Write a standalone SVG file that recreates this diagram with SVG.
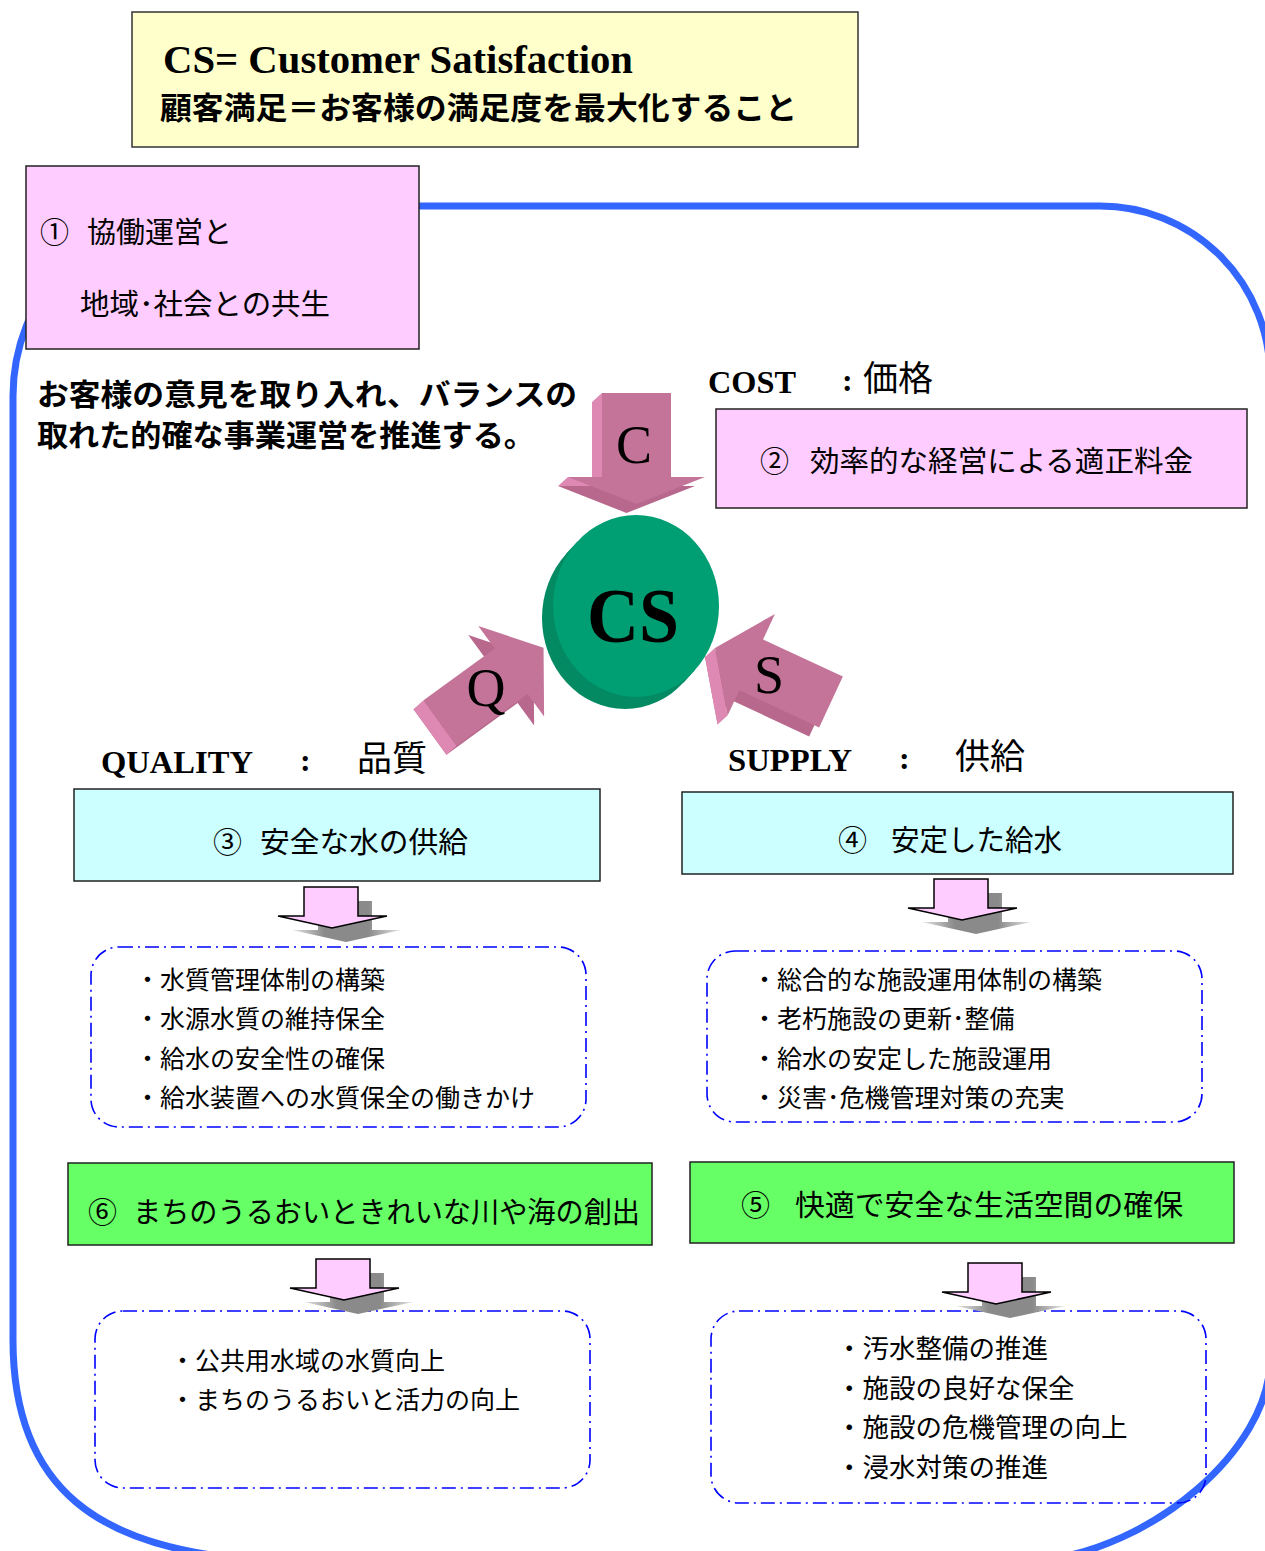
<svg xmlns="http://www.w3.org/2000/svg" width="1265" height="1551" viewBox="0 0 1265 1551">
<style>
.jp{font-family:"Noto Sans CJK JP","Noto Sans",sans-serif;fill:#000}
.jpb{font-family:"Noto Sans CJK JP","Noto Sans",sans-serif;font-weight:bold;fill:#000}
.ser{font-family:"Liberation Serif","Times New Roman",serif;fill:#000}
.box{stroke:#222;stroke-width:1.5}
.pink{fill:#FFCCFF}
.cyan{fill:#CCFFFF}
.green{fill:#66FF66}
.dash{fill:none;stroke:#0000FF;stroke-width:1.6;stroke-dasharray:14 5 2 5}
.fr{fill:#C47498}
.bk{fill:#B7688C}
.lt{fill:#DE88B4}
.t29{font-size:29px}
.li{font-size:25px}
.li2{font-size:26.5px}
.lab{font-size:32px;font-weight:bold}
.big{font-size:35px}
.sp{fill:#FFCCFF;stroke:#000;stroke-width:1.5}
.sh{fill:url(#sg)}
</style>
<defs>
<linearGradient id="sg" x1="0" y1="0" x2="1" y2="0">
<stop offset="0" stop-color="#e4e4e4"/>
<stop offset="0.3" stop-color="#8a8a8a"/>
<stop offset="0.7" stop-color="#8a8a8a"/>
<stop offset="1" stop-color="#e4e4e4"/>
</linearGradient>
<path id="sa" d="M0,0 H54 V29 H83 L28,41 L-26,29 H0 Z"/>
<path id="qs" d="M0,-28 H88 V-56 L128,0 L88,56 V28 H0 Z"/>
<path id="ca" d="M602,393 H671 V477 H705 L636.5,504 L568,477 H602 Z"/>
</defs>
<rect width="1265" height="1551" fill="#fff"/>

<g id="frame">
<path d="M183,206 L1100,206 A170,170 0 0 1 1270,376 L1270,1360 C1270,1450 1150,1550 1040,1560 L260,1560 C100,1550 13,1490 13,1340 L13,396 A190,190 0 0 1 203,206 Z" fill="none" stroke="#3366FF" stroke-width="7"/>
</g>

<g id="header">
<rect x="132" y="12" width="726" height="135" fill="#FFFFCC" stroke="#333" stroke-width="1.5"/>
<text class="ser" x="163" y="73" font-size="40" font-weight="bold" textLength="470" lengthAdjust="spacingAndGlyphs">CS= Customer Satisfaction</text>
<text class="jpb" x="160" y="119" font-size="31" textLength="637" lengthAdjust="spacingAndGlyphs">顧客満足＝お客様の満足度を最大化すること</text>
</g>

<g id="node1">
<rect class="box pink" x="26" y="166" width="393" height="183"/>
<text class="jp t29" x="40" y="243">①</text>
<text class="jp t29" x="87" y="243" textLength="145" lengthAdjust="spacingAndGlyphs">協働運営と</text>
<text class="jp t29" x="80" y="315" textLength="250" lengthAdjust="spacingAndGlyphs">地域･社会との共生</text>
</g>

<g id="intro">
<text class="jpb" x="37" y="405" font-size="30" textLength="540" lengthAdjust="spacingAndGlyphs">お客様の意見を取り入れ、バランスの</text>
<text class="jpb" x="37" y="446" font-size="30" textLength="498" lengthAdjust="spacingAndGlyphs">取れた的確な事業運営を推進する。</text>
</g>

<g id="cost-label">
<text class="ser lab" x="708" y="393" textLength="88" lengthAdjust="spacingAndGlyphs">COST</text>
<text class="ser lab" x="842" y="391">:</text>
<text class="jp big" x="863" y="391">価格</text>
</g>

<g id="node2">
<rect class="box pink" x="716" y="409" width="531" height="99"/>
<text class="jp t29" x="760" y="472">②</text>
<text class="jp t29" x="810" y="472" textLength="383" lengthAdjust="spacingAndGlyphs">効率的な経営による適正料金</text>
</g>

<g id="cs">
<ellipse cx="625" cy="618" rx="83" ry="91" fill="#038A63"/>
<polygon points="577.4,541.6 694.6,670.4 683.6,682.4 566.4,553.6" fill="#038A63"/>
<ellipse cx="636" cy="606" rx="83" ry="91" fill="#009E73"/>
<text class="ser" x="633" y="642" font-size="78" font-weight="bold" text-anchor="middle" textLength="92" lengthAdjust="spacingAndGlyphs">CS</text>
</g>

<g id="quality-label">
<text class="ser lab" x="101" y="773" textLength="152" lengthAdjust="spacingAndGlyphs">QUALITY</text>
<text class="ser lab" x="300" y="771">:</text>
<text class="jp big" x="357" y="771">品質</text>
</g>

<g id="supply-label">
<text class="ser lab" x="728" y="771" textLength="124" lengthAdjust="spacingAndGlyphs">SUPPLY</text>
<text class="ser lab" x="899" y="769">:</text>
<text class="jp big" x="955" y="769">供給</text>
</g>

<g id="node3">
<rect class="box cyan" x="74" y="789" width="526" height="92"/>
<text class="jp t29" x="213" y="853">③</text>
<text class="jp t29" x="260" y="853" textLength="208" lengthAdjust="spacingAndGlyphs">安全な水の供給</text>
</g>

<g id="node4">
<rect class="box cyan" x="682" y="792" width="551" height="82"/>
<text class="jp t29" x="838" y="851">④</text>
<text class="jp t29" x="891" y="851" textLength="171" lengthAdjust="spacingAndGlyphs">安定した給水</text>
</g>

<g id="list3">
<rect class="dash" x="91" y="947" width="495" height="180" rx="28"/>
<text class="jp li" x="135" y="989">・水質管理体制の構築</text>
<text class="jp li" x="135" y="1028">・水源水質の維持保全</text>
<text class="jp li" x="135" y="1068">・給水の安全性の確保</text>
<text class="jp li" x="135" y="1107">・給水装置への水質保全の働きかけ</text>
</g>

<g id="list4">
<rect class="dash" x="707" y="951" width="495" height="171" rx="28"/>
<text class="jp li" x="752" y="989">・総合的な施設運用体制の構築</text>
<text class="jp li" x="752" y="1028">・老朽施設の更新･整備</text>
<text class="jp li" x="752" y="1068">・給水の安定した施設運用</text>
<text class="jp li" x="752" y="1107">・災害･危機管理対策の充実</text>
</g>

<g id="node6">
<rect class="box green" x="68" y="1163" width="584" height="82"/>
<text class="jp t29" x="88" y="1223">⑥</text>
<text class="jp t29" x="133" y="1223" textLength="507" lengthAdjust="spacingAndGlyphs">まちのうるおいときれいな川や海の創出</text>
</g>

<g id="node5">
<rect class="box green" x="690" y="1162" width="544" height="81"/>
<text class="jp t29" x="741" y="1216">⑤</text>
<text class="jp t29" x="795" y="1216" textLength="388" lengthAdjust="spacingAndGlyphs">快適で安全な生活空間の確保</text>
</g>

<g id="list6">
<rect class="dash" x="95" y="1311" width="495" height="177" rx="28"/>
<text class="jp li" x="170" y="1370">・公共用水域の水質向上</text>
<text class="jp li" x="170" y="1409">・まちのうるおいと活力の向上</text>
</g>

<g id="list5">
<rect class="dash" x="711" y="1311" width="495" height="192" rx="28"/>
<text class="jp li2" x="836" y="1358">・汚水整備の推進</text>
<text class="jp li2" x="836" y="1398">・施設の良好な保全</text>
<text class="jp li2" x="836" y="1437">・施設の危機管理の向上</text>
<text class="jp li2" x="836" y="1477">・浸水対策の推進</text>
</g>

<g id="connectors">
<g id="arrow-c">
<use href="#ca" class="bk" transform="translate(-10,9)"/>
<polygon class="lt" points="592,402 602,393 602,477 568,477 558,486 592,486"/>
<use href="#ca" class="fr"/>
<text class="ser" x="634" y="463" font-size="54" text-anchor="middle">C</text>
</g>
<g id="arrow-q">
<use href="#qs" class="bk" transform="translate(-10,9) translate(440,723) rotate(-36)"/>
<polygon class="lt" points="423.5,700.3 456.5,745.7 446.5,754.7 413.5,709.3"/>
<use href="#qs" class="fr" transform="translate(440,723) rotate(-36)"/>
<text class="ser" x="486" y="706" font-size="54" text-anchor="middle">Q</text>
</g>
<g id="arrow-s">
<use href="#qs" class="bk" transform="translate(-10,9) translate(831,702) rotate(205)"/>
<polygon class="lt" points="715,647.9 727.6,715.5 717.6,724.5 705,656.9"/>
<use href="#qs" class="fr" transform="translate(831,702) rotate(205)"/>
<text class="ser" x="769" y="693" font-size="54" text-anchor="middle">S</text>
</g>
<g id="arrow-3">
<use href="#sa" class="sh" transform="translate(318,901)"/>
<use href="#sa" class="sp" transform="translate(304,887)"/>
</g>
<g id="arrow-4">
<use href="#sa" class="sh" transform="translate(948,893)"/>
<use href="#sa" class="sp" transform="translate(934,879)"/>
</g>
<g id="arrow-6">
<use href="#sa" class="sh" transform="translate(330,1273)"/>
<use href="#sa" class="sp" transform="translate(316,1259)"/>
</g>
<g id="arrow-5">
<use href="#sa" class="sh" transform="translate(982,1277)"/>
<use href="#sa" class="sp" transform="translate(968,1263)"/>
</g>
</g>
</svg>
